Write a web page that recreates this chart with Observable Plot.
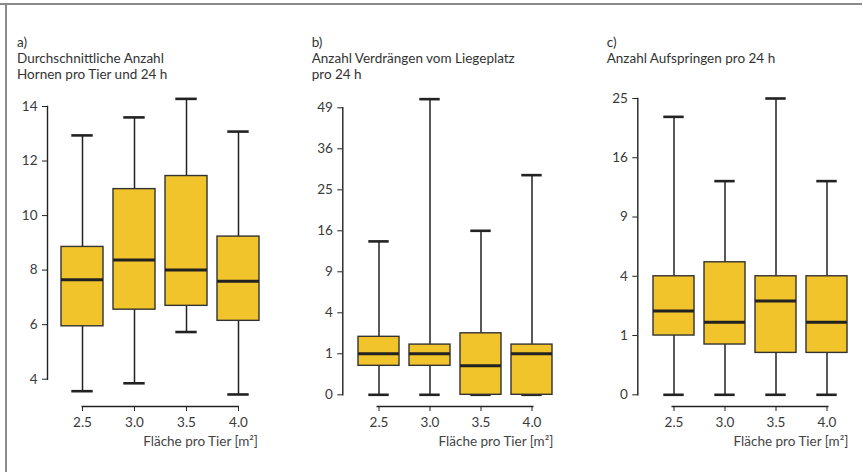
<!DOCTYPE html>
<html><head><meta charset="utf-8">
<script src="https://cdn.jsdelivr.net/npm/d3@7"></script>
<script src="https://cdn.jsdelivr.net/npm/@observablehq/plot@0.6"></script>
<style>
html,body{margin:0;padding:0;background:#fff;}
#chart{position:relative;width:863px;height:472px;overflow:hidden;font-family:Lato,"Noto Sans",sans-serif;color:#333;}
#chart svg{position:absolute;left:0;top:0;}
.fr-top{position:absolute;left:0;top:3px;width:862px;height:2px;background:#8a8a8a;}
.fr-left{position:absolute;left:4.5px;top:3px;width:2px;height:469px;background:#8a8a8a;}
.tline{position:absolute;font-size:13.5px;line-height:15px;height:15px;color:#333;white-space:nowrap;}
.xlabel{position:absolute;top:434px;font-size:13.5px;line-height:15px;color:#444;white-space:nowrap;}
</style></head><body><div id="chart"><div class="fr-top"></div><div class="fr-left"></div></div>
<script>
// ---- data ----
const area = ["2.5", "3.0", "3.5", "4.0"];
const xLabel = "Fläche pro Tier [m²]";

const titleA = ["a)", "Durchschnittliche Anzahl", "Hornen pro Tier und 24 h"];
const hornMin = [3.56, 3.85, 5.73, 3.44];
const hornQ1  = [5.94, 6.55, 6.69, 6.14];
const hornMed = [7.65, 8.37, 8.00, 7.59];
const hornQ3  = [8.85, 10.97, 11.45, 9.23];
const hornMax = [12.94, 13.60, 14.28, 13.08];
const hornTicks = [4, 6, 8, 10, 12, 14];

const titleB = ["b)", "Anzahl Verdrängen vom Liegeplatz", "pro 24 h"];
const verdMin = [0, 0, 0, 0];
const verdQ1  = [0.5, 0.5, 0, 0];
const verdMed = [1, 1, 0.5, 1];
const verdQ3  = [2, 1.5, 2.25, 1.5];
const verdMax = [14, 52, 16, 28.7];
const verdTicks = [0, 1, 4, 9, 16, 25, 36, 49];

const titleC = ["c)", "Anzahl Aufspringen pro 24 h"];
const aufMin = [0, 0, 0, 0];
const aufQ1  = [1, 0.72, 0.5, 0.5];
const aufMed = [2, 1.5, 2.5, 1.5];
const aufQ3  = [4, 5, 4, 4];
const aufMax = [22, 13, 25, 13];
const aufTicks = [0, 1, 4, 9, 16, 25];

function rows(mn, q1, md, q3, mx) {
  return area.map((a, i) => ({area: a, min: mn[i], q1: q1[i], med: md[i], q3: q3[i], max: mx[i]}));
}

// ---- layout (pixels) ----
const W = 863, H = 472, X_AXIS_Y = 406, TITLE_TOP = 35, TITLE_STEP = 16;
const panels = [
  {title: titleA, data: rows(hornMin, hornQ1, hornMed, hornQ3, hornMax), type: "linear", ticks: hornTicks,
   axisX: 47, yTop: 106, yBottom: 378.7, xFirst: 81.7, xLast: 237.7, titleX: 17, labelRight: 258},
  {title: titleB, data: rows(verdMin, verdQ1, verdMed, verdQ3, verdMax), type: "sqrt", ticks: verdTicks,
   axisX: 342.3, yTop: 107.3, yBottom: 394.3, xFirst: 376.7, xLast: 532.3, titleX: 311.7, labelRight: 553.3},
  {title: titleC, data: rows(aufMin, aufQ1, aufMed, aufQ3, aufMax), type: "sqrt", ticks: aufTicks,
   axisX: 637.3, yTop: 98, yBottom: 394.3, xFirst: 671.7, xLast: 827.3, titleX: 606.7, labelRight: 848.3}
];

const chart = document.getElementById("chart");
const FILL = "#F2C42B", INK = "#222";

for (const p of panels) {
  const step = (p.xLast - p.xFirst) / (area.length - 1);
  const svg = Plot.plot({
    width: W, height: H,
    marginLeft: p.axisX, marginTop: p.yTop, marginBottom: H - X_AXIS_Y, marginRight: W - p.xLast,
    x: {type: "band", domain: area, range: [p.xFirst - step / 2, p.xLast + step / 2], paddingInner: 0.2, paddingOuter: 0.1},
    y: {type: p.type, domain: [p.ticks[0], p.ticks[p.ticks.length - 1]], range: [p.yBottom, p.yTop]},
    style: {fontFamily: "Lato, Noto Sans, sans-serif", fontSize: "13.5px", color: "#3a3a3a", background: "transparent", overflow: "visible"},
    marks: [
      Plot.frame({anchor: "left", insetBottom: X_AXIS_Y - p.yBottom, stroke: INK, strokeWidth: 1.4}),
      Plot.frame({anchor: "bottom", insetLeft: p.xFirst - p.axisX, stroke: INK, strokeWidth: 1.4}),
      Plot.axisY({ticks: p.ticks, tickSize: 5, tickPadding: 5, label: null, stroke: INK}),
      Plot.axisX({tickSize: 5, tickPadding: 6, label: null, stroke: INK}),
      Plot.ruleX(p.data, {x: "area", y1: "min", y2: "max", stroke: INK, strokeWidth: 1.5}),
      Plot.tickY(p.data, {x: "area", y: "min", insetLeft: 10.3, insetRight: 10.3, stroke: INK, strokeWidth: 2.6}),
      Plot.tickY(p.data, {x: "area", y: "max", insetLeft: 10.3, insetRight: 10.3, stroke: INK, strokeWidth: 2.6}),
      Plot.barY(p.data, {x: "area", y1: "q1", y2: "q3", fill: FILL, stroke: "#333", strokeWidth: 1.4}),
      Plot.tickY(p.data, {x: "area", y: "med", stroke: INK, strokeWidth: 3})
    ]
  });
  chart.appendChild(svg);

  p.title.forEach((line, i) => {
    const t = document.createElement("div");
    t.className = "tline";
    t.style.left = p.titleX + "px";
    t.style.top = (TITLE_TOP + i * TITLE_STEP) + "px";
    t.textContent = line;
    chart.appendChild(t);
  });

  const xl = document.createElement("div");
  xl.className = "xlabel";
  xl.style.right = (W - p.labelRight) + "px";
  xl.textContent = xLabel;
  chart.appendChild(xl);
}
</script></body></html>
